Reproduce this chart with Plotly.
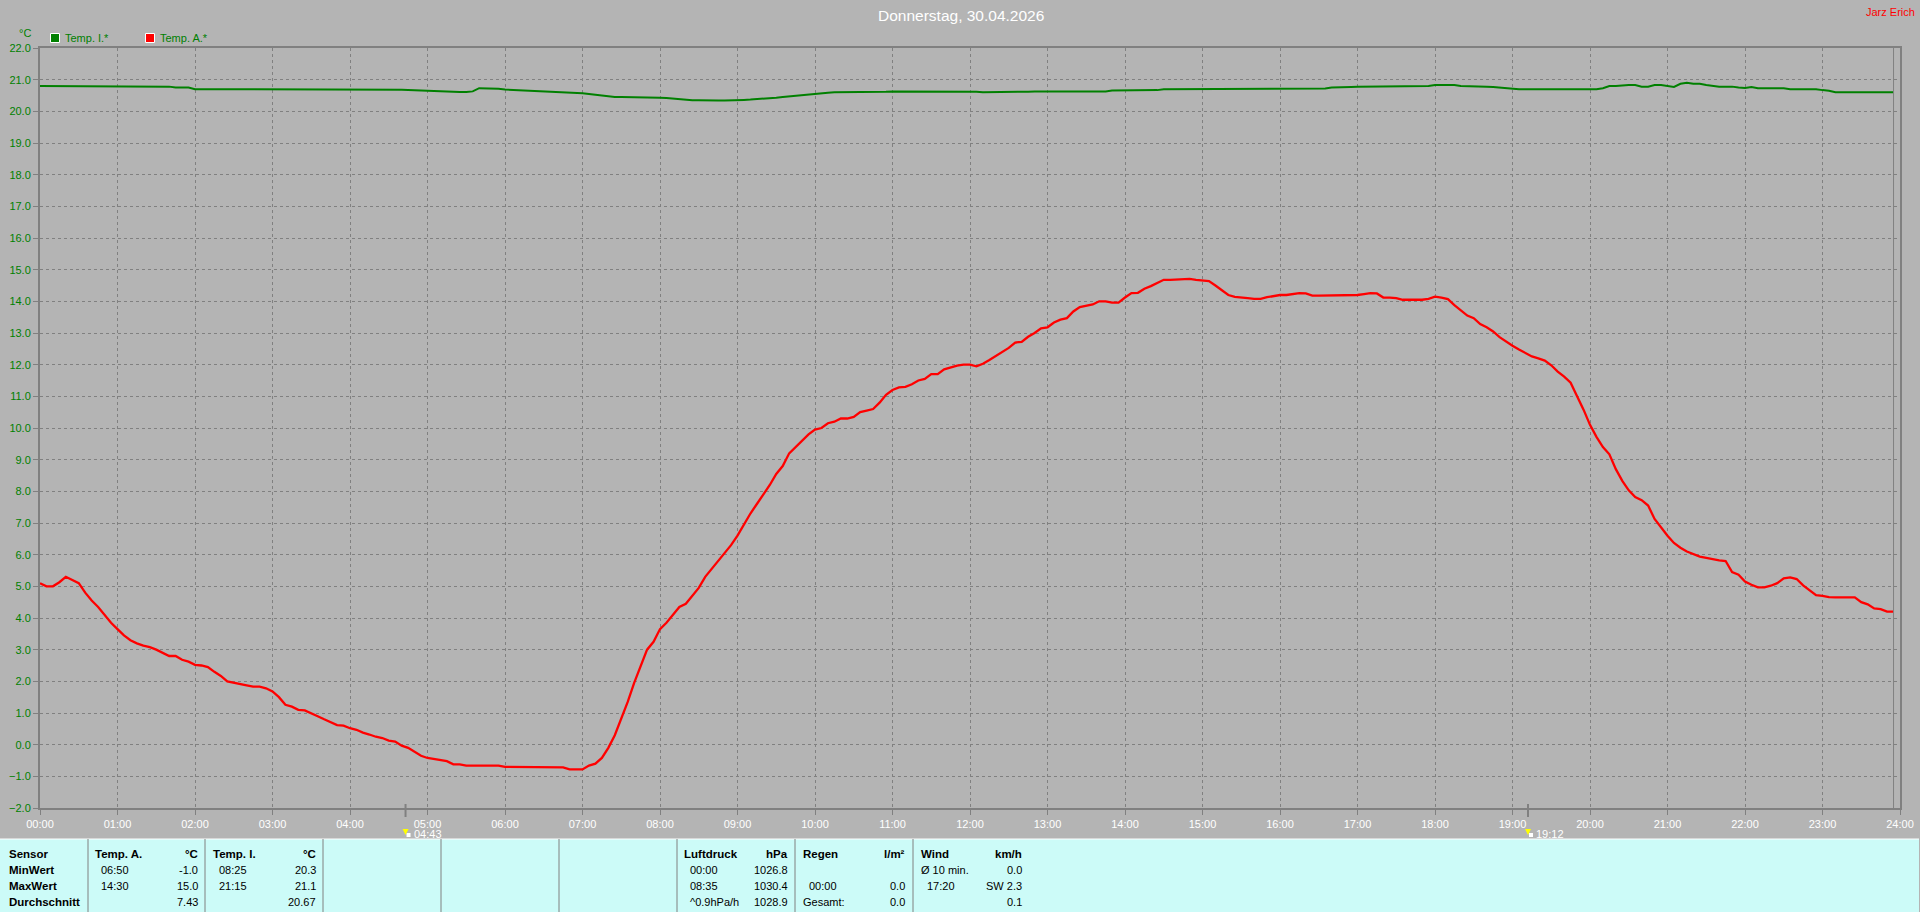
import plotly.graph_objects as go

# five minute readings, one row per hour
minutes = list(range(0, 1440, 5))

temp_a = [
    5.1, 5.0, 5.0, 5.13, 5.3, 5.2, 5.1, 4.8, 4.55, 4.35, 4.1, 3.85,
    3.65, 3.45, 3.3, 3.2, 3.13, 3.08, 3.0, 2.9, 2.8, 2.8, 2.68, 2.62,
    2.52, 2.5, 2.45, 2.3, 2.17, 2.0, 1.95, 1.9, 1.87, 1.83, 1.83, 1.78,
    1.68, 1.5, 1.26, 1.2, 1.1, 1.08, 1.0, 0.9, 0.8, 0.7, 0.62, 0.6,
    0.52, 0.47, 0.38, 0.32, 0.25, 0.21, 0.13, 0.1, -0.03, -0.1, -0.23, -0.35,
    -0.42, -0.45, -0.5, -0.52, -0.62, -0.62, -0.66, -0.66, -0.66, -0.66, -0.66, -0.66,
    -0.7, -0.7, -0.7, -0.7, -0.7, -0.7, -0.7, -0.7, -0.7, -0.72, -0.78, -0.78,
    -0.78, -0.66, -0.6, -0.42, -0.1, 0.3, 0.8, 1.35, 1.95, 2.5, 3.0, 3.25,
    3.65, 3.85, 4.1, 4.35, 4.45, 4.7, 4.95, 5.3, 5.55, 5.8, 6.05, 6.3,
    6.6, 6.95, 7.3, 7.6, 7.9, 8.2, 8.55, 8.8, 9.2, 9.4, 9.6, 9.8,
    9.95, 10.0, 10.15, 10.2, 10.3, 10.3, 10.35, 10.5, 10.55, 10.6, 10.8, 11.05,
    11.2, 11.28, 11.3, 11.38, 11.5, 11.55, 11.7, 11.7, 11.85, 11.92, 11.97, 12.0,
    12.0, 11.95, 12.03, 12.15, 12.28, 12.4, 12.53, 12.7, 12.72, 12.88, 13.0, 13.15,
    13.18, 13.33, 13.42, 13.47, 13.68, 13.82, 13.87, 13.9, 14.0, 14.0, 13.96, 13.96,
    14.12, 14.26, 14.27, 14.4, 14.48, 14.58, 14.68, 14.68, 14.69, 14.71, 14.71, 14.68,
    14.67, 14.64, 14.5, 14.34, 14.2, 14.14, 14.13, 14.1, 14.08, 14.08, 14.13, 14.17,
    14.2, 14.2, 14.23, 14.26, 14.25, 14.18, 14.18, 14.18, 14.18, 14.2, 14.2, 14.2,
    14.2, 14.23, 14.26, 14.25, 14.12, 14.12, 14.1, 14.05, 14.05, 14.05, 14.05, 14.08,
    14.15, 14.12, 14.07, 13.88, 13.7, 13.55, 13.47, 13.28, 13.18, 13.05, 12.87, 12.73,
    12.6, 12.48, 12.38, 12.26, 12.2, 12.13, 11.98, 11.78, 11.62, 11.43, 11.0, 10.58,
    10.1, 9.72, 9.4, 9.17, 8.7, 8.33, 8.03, 7.82, 7.72, 7.55, 7.13, 6.85,
    6.6, 6.37, 6.22, 6.1, 6.02, 5.94, 5.9, 5.85, 5.82, 5.8, 5.45, 5.37,
    5.15, 5.05, 4.97, 4.97, 5.02, 5.1, 5.25, 5.28, 5.23, 5.03, 4.87, 4.72,
    4.7, 4.66, 4.65, 4.65, 4.65, 4.65, 4.5, 4.43, 4.3, 4.28, 4.2, 4.2,
]

temp_i = [
    20.8, 20.8, 20.8, 20.8, 20.8, 20.8, 20.8, 20.8, 20.8, 20.8, 20.8, 20.8,
    20.8, 20.8, 20.8, 20.8, 20.8, 20.8, 20.8, 20.8, 20.78, 20.75, 20.75, 20.75,
    20.7, 20.7, 20.7, 20.7, 20.7, 20.7, 20.7, 20.7, 20.7, 20.7, 20.7, 20.7,
    20.7, 20.7, 20.7, 20.7, 20.7, 20.7, 20.7, 20.7, 20.7, 20.7, 20.7, 20.7,
    20.7, 20.7, 20.7, 20.7, 20.7, 20.7, 20.7, 20.7, 20.68, 20.67, 20.66, 20.65,
    20.65, 20.63, 20.62, 20.61, 20.61, 20.61, 20.61, 20.63, 20.73, 20.73, 20.73, 20.71,
    20.69, 20.68, 20.68, 20.67, 20.66, 20.65, 20.65, 20.64, 20.63, 20.62, 20.6, 20.6,
    20.57, 20.55, 20.52, 20.5, 20.47, 20.45, 20.45, 20.45, 20.45, 20.45, 20.45, 20.45,
    20.43, 20.42, 20.4, 20.37, 20.36, 20.35, 20.35, 20.34, 20.34, 20.34, 20.34, 20.34,
    20.35, 20.36, 20.37, 20.38, 20.39, 20.41, 20.43, 20.45, 20.47, 20.5, 20.52, 20.55,
    20.57, 20.58, 20.59, 20.6, 20.6, 20.6, 20.6, 20.6, 20.6, 20.6, 20.62, 20.62,
    20.63, 20.63, 20.63, 20.63, 20.63, 20.63, 20.63, 20.63, 20.63, 20.63, 20.63, 20.63,
    20.63, 20.62, 20.6, 20.6, 20.6, 20.6, 20.6, 20.6, 20.62, 20.62, 20.63, 20.63,
    20.63, 20.63, 20.63, 20.63, 20.63, 20.63, 20.63, 20.63, 20.63, 20.63, 20.66, 20.66,
    20.67, 20.67, 20.67, 20.67, 20.67, 20.67, 20.7, 20.7, 20.7, 20.7, 20.7, 20.7,
    20.7, 20.7, 20.7, 20.7, 20.7, 20.7, 20.7, 20.7, 20.7, 20.7, 20.7, 20.7,
    20.7, 20.7, 20.7, 20.7, 20.7, 20.7, 20.7, 20.72, 20.75, 20.75, 20.77, 20.77,
    20.78, 20.78, 20.78, 20.78, 20.78, 20.78, 20.78, 20.8, 20.8, 20.8, 20.8, 20.8,
    20.83, 20.83, 20.83, 20.83, 20.8, 20.8, 20.8, 20.78, 20.78, 20.77, 20.75, 20.73,
    20.7, 20.7, 20.7, 20.7, 20.7, 20.7, 20.7, 20.7, 20.7, 20.7, 20.7, 20.7,
    20.7, 20.7, 20.73, 20.8, 20.8, 20.82, 20.83, 20.83, 20.78, 20.78, 20.83, 20.83,
    20.8, 20.77, 20.87, 20.9, 20.87, 20.87, 20.83, 20.8, 20.78, 20.78, 20.78, 20.75,
    20.74, 20.77, 20.73, 20.73, 20.73, 20.73, 20.73, 20.7, 20.7, 20.7, 20.7, 20.7,
    20.67, 20.65, 20.6, 20.6, 20.6, 20.6, 20.6, 20.6, 20.6, 20.6, 20.6, 20.6,
]

hour_ticks = list(range(0, 1500, 60))
hour_labels = [f"{h:02d}:00" for h in range(25)]
temp_ticks = list(range(-2, 23))

sun_minutes = [283, 1152]
sun_labels = ["04:43", "19:12"]

# summary table under the chart
row_names = ["Sensor", "MinWert", "MaxWert", "Durchschnitt"]
columns = [
    ("Temp. A.", "°C", ["06:50", "14:30", ""], ["-1.0", "15.0", "7.43"], 94, 199),
    ("Temp. I.", "°C", ["08:25", "21:15", ""], ["20.3", "21.1", "20.67"], 212, 317),
    ("Luftdruck", "hPa", ["00:00", "08:35", "^0.9hPa/h"], ["1026.8", "1030.4", "1028.9"], 683, 789),
    ("Regen", "l/m²", ["", "00:00", "Gesamt:"], ["", "0.0", "0.0"], 802, 906),
    ("Wind", "km/h", ["Ø 10 min.", "17:20", ""], ["0.0", "SW 2.3", "0.1"], 920, 1023),
]
dividers = [88, 205, 323, 441, 559, 677, 795, 913]
row_y = [854, 870, 886, 902]

W, H = 1920, 912
FONT = "Liberation Sans"
GREY = "#808080"
BG = "#B4B4B4"
CYAN = "#CCFBF8"


def px(x):
    return x / W


def py(y):
    return 1 - y / H


def label(x, y, text, color="black", size=11, anchor="left", bold=False):
    if bold:
        text = f"<b>{text}</b>"
    fig.add_annotation(x=px(x), y=py(y), xref="paper", yref="paper", text=text, showarrow=False,
                       xanchor=anchor, yanchor="middle", borderpad=0,
                       font=dict(family=FONT, size=size, color=color))


def box(x0, y0, x1, y1, fill, line=None, width=1):
    fig.add_shape(type="rect", xref="paper", yref="paper", x0=px(x0), x1=px(x1), y0=py(y0), y1=py(y1),
                  fillcolor=fill, line=dict(color=line or fill, width=width if line else 0), layer="above")


fig = go.Figure()
fig.add_trace(go.Scatter(x=minutes, y=temp_i, mode="lines", name="Temp. I.*", line=dict(color="#008000", width=2)))
fig.add_trace(go.Scatter(x=minutes, y=temp_a, mode="lines", name="Temp. A.*", line=dict(color="#FF0000", width=2.3)))

fig.update_layout(
    width=W, height=H, margin=dict(l=0, r=0, t=0, b=0), autosize=False,
    paper_bgcolor=BG, plot_bgcolor=BG, showlegend=False,
    font=dict(family=FONT, size=11),
)
fig.update_xaxes(
    domain=[px(40), px(1900)], range=[0, 1440], tickmode="array", tickvals=hour_ticks, ticktext=hour_labels,
    tickfont=dict(color="white", size=11, family=FONT), ticks="outside", ticklen=5, tickcolor=GREY, tickwidth=1,
    showline=True, linecolor=GREY, linewidth=2, mirror=True,
    showgrid=True, gridcolor=GREY, gridwidth=1, griddash="3px,3px", zeroline=False, automargin=False,
)
fig.update_yaxes(
    domain=[py(808), py(48)], range=[-2, 22], tickmode="array", tickvals=temp_ticks, tickformat=".1f",
    tickfont=dict(color="#008000", size=11, family=FONT), ticks="outside", ticklen=5, tickcolor=GREY, tickwidth=1,
    showline=True, linecolor=GREY, linewidth=2, mirror=True,
    showgrid=True, gridcolor=GREY, gridwidth=1, griddash="3px,3px", zeroline=False, automargin=False,
)

# last reading marker, right side of the plot
fig.add_shape(type="line", xref="x", yref="paper", x0=minutes[-1], x1=minutes[-1], y0=py(808), y1=py(48),
              line=dict(color=GREY, width=1))

# titles and legend
label(961, 15, "Donnerstag, 30.04.2026", color="white", size=15.5, anchor="center")
label(1916, 12, "Jarz Erich", color="#FF0000", size=11, anchor="right")
label(25, 33, "°C", color="#008000", size=11, anchor="center")
box(50.5, 33.5, 59.5, 42.5, "#008000", "white", 1)
label(64, 38, "Temp. I.*", color="#008000")
box(145.5, 33.5, 154.5, 42.5, "#FF0000", "white", 1)
label(159, 38, "Temp. A.*", color="#008000")

# sunrise and sunset
for m, text in zip(sun_minutes, sun_labels):
    fig.add_shape(type="line", xref="x", yref="paper", x0=m, x1=m, y0=py(804), y1=py(817),
                  line=dict(color=GREY, width=2))
    x_sun = 40 + m * 1860 / 1440
    label(x_sun + 7, 834, text, color="white")
    box(x_sun + 1, 833, x_sun + 5, 837, "white")
    fig.add_shape(type="path", xref="paper", yref="paper", layer="above",
                  path=f"M {px(x_sun - 3)} {py(829)} L {px(x_sun + 3)} {py(829)} L {px(x_sun)} {py(835)} Z",
                  fillcolor="#FFFF00", line=dict(color="black", width=0))

# bottom panel
box(0, 839, 1919, 912, CYAN)
fig.add_shape(type="line", xref="paper", yref="paper", x0=0, x1=px(1919), y0=py(839), y1=py(839),
              line=dict(color="white", width=1), layer="above")
for d in dividers:
    fig.add_shape(type="line", xref="paper", yref="paper", x0=px(d), x1=px(d), y0=py(839), y1=0,
                  line=dict(color=GREY, width=1), layer="above")

for name, y in zip(row_names, row_y):
    label(8, y, name, bold=True, size=11.5)
for title, unit, times, values, left, right in columns:
    label(left, row_y[0], title, bold=True, size=11.5)
    label(right, row_y[0], unit, bold=True, size=11.5, anchor="right")
    for y, t, v in zip(row_y[1:], times, values):
        if t:
            indent = 0 if t in ("Gesamt:", "Ø 10 min.") else 6
            label(left + indent, y, t)
        if v:
            label(right, y, v, anchor="right")

fig.write_html("out.html", config={"displayModeBar": False},
               post_script="document.body.style.margin='0';document.body.style.overflow='hidden';")
